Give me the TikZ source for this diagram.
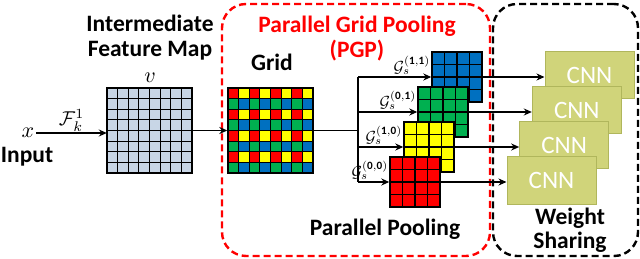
\RequirePackage{fix-cm}
\documentclass[tikz,border=0pt]{standalone}
\usepackage{fontspec}
\setmainfont{Carlito}
\usetikzlibrary{arrows.meta}
\definecolor{pgR}{RGB}{255,0,0}
\definecolor{pgY}{RGB}{255,255,0}
\definecolor{pgG}{RGB}{0,176,80}
\definecolor{pgB}{RGB}{0,112,192}
\definecolor{fmC}{RGB}{200,214,230}
\definecolor{cnnF}{RGB}{208,212,122}
\definecolor{cnnD}{RGB}{176,182,92}
\newcommand{\FC}{10.625}
\newcommand{\SC}{12.5}
\newcommand{\bigmath}[2][2.2]{\scalebox{#1}{$#2$}}
\newcommand{\gmath}[1]{\scalebox{1.6}{$\mathcal{G}_s^{\mathbf{(#1)}}$}}

% block of equal cells: #1,#2 top-left, #3 last index, #4 cell side, #5 fill
\newcommand{\cellblock}[5]{%
  \foreach \i in {0,...,#3} \foreach \j in {0,...,#3}
    \draw[cell, fill=#5] ({#1+\j*#4},{#2+\i*#4}) rectangle ++(#4,#4);}

\begin{document}
\begin{tikzpicture}[x=1pt, y=-1pt,
    ln/.style={draw=black, line width=1.8pt},
    arr/.style={ln, -{Stealth[length=8pt, width=7pt]}},
    cell/.style={draw=black, line width=1.2pt},
    mapbox/.style={rectangle, draw=black, line width=1.4pt, inner sep=0pt},
    cnn/.style={rectangle, draw=cnnD, line width=1pt, fill=cnnF, minimum width=89pt,
      minimum height=47pt, text=white, font=\fontsize{25}{28}\selectfont},
    frameR/.style={draw=pgR, line width=2.4pt, dash pattern=on 7pt off 4pt, rounded corners=24pt},
    frameK/.style={draw=black, line width=2.4pt, dash pattern=on 7pt off 4pt, rounded corners=24pt},
    lbl/.style={font=\fontsize{23.5}{26}\selectfont\bfseries, inner sep=0pt, anchor=base},
    mth/.style={inner sep=2pt},
    glbl/.style={inner sep=1pt, anchor=south east, yshift=1pt},
  ]
  \useasboundingbox (0,0) rectangle (640,259);

  %% ================= frames =================
  \node[frameR, minimum width=268pt, minimum height=252pt] (pgp) at (356,130) {};
  \node[frameK, minimum width=145pt, minimum height=252pt] (ws) at (565.5,130) {};

  %% ================= input and feature map =================
  \node[mth] (x) at (28,133) {\bigmath{x}};
  \node[lbl] (inp) at (27,163) {Input};
  \cellblock{107}{88}{7}{\FC}{fmC}
  \node[mth, minimum size=85pt] (fm) at (149.5,130.5) {};
  \draw[mapbox] (fm.north west) rectangle (fm.south east);
  \node[mth] (v) at (150,78) {\bigmath{v}};
  \node[lbl] (im) at (150,32) {Intermediate};
  \node[lbl] (fmt) at (150,57) {Feature Map};
  \draw[arr] (x.east) -- node[mth, above=-1pt] (F) {\bigmath[2.0]{\mathcal{F}_k^1}} (x.east -| fm.west);

  %% ================= grid =================
  \foreach \i in {0,...,7} \foreach \j in {0,...,7} {
    \ifodd\j\relax \ifodd\i\relax \def\c{pgB}\else \def\c{pgY}\fi
    \else \ifodd\i\relax \def\c{pgG}\else \def\c{pgR}\fi \fi
    \draw[cell, fill=\c] ({228+\j*\FC},{88+\i*\FC}) rectangle ++(\FC,\FC);
  }
  \node[mapbox, minimum size=85pt] (grid) at (270.5,130.5) {};
  \node[lbl] (gl) at (272,71) {Grid};
  \draw[arr] (fm) -- (grid);

  \node[lbl, text=pgR] (t1) at (357,33) {Parallel Grid Pooling};
  \node[lbl, text=pgR] (t2) at (357,58) {(PGP)};
  \node[lbl] (pp) at (385,235) {Parallel Pooling};

  %% ================= pooled maps =================
  \cellblock{432}{52}{3}{\SC}{pgB}
  \node[mapbox, minimum size=50pt] (g11) at (457,77) {};
  \cellblock{418}{87}{3}{\SC}{pgG}
  \node[mapbox, minimum size=50pt] (g01) at (443,112) {};
  \cellblock{404}{122}{3}{\SC}{pgY}
  \node[mapbox, minimum size=50pt] (g10) at (429,147) {};
  \cellblock{390}{157}{3}{\SC}{pgR}
  \node[mapbox, minimum size=50pt] (g00) at (415,182) {};

  \coordinate (br) at (358,130.5);
  \draw[ln] (grid.east) -- (br);
  \draw[ln] (br |- g11) -- (br |- g00);
  \foreach \g in {g11,g01,g10,g00}
    \draw[arr] (br |- \g) -- (\g.west);
  \node[glbl] (l11) at (g11.west) {\gmath{1,1}};
  \node[glbl] (l01) at (g01.west) {\gmath{0,1}};
  \node[glbl] (l10) at (g10.west) {\gmath{1,0}};
  \node[glbl] (l00) at (g00.west) {\gmath{0,0}};

  %% ================= shared CNNs =================
  \node[cnn] (c1) at (589.5,75.5) {CNN};
  \node[cnn] (c2) at (576.8,110.5) {CNN};
  \node[cnn] (c3) at (564.2,145.5) {CNN};
  \node[cnn] (c4) at (551.5,180.5) {CNN};
  \foreach \g/\c in {g11/c1,g01/c2,g10/c3,g00/c4}
    \draw[arr] (\g.east) -- (\g.east -| \c.west);

  \node[lbl] (w1) at (570,224) {Weight};
  \node[lbl] (w2) at (570,248) {Sharing};
\end{tikzpicture}
\end{document}
